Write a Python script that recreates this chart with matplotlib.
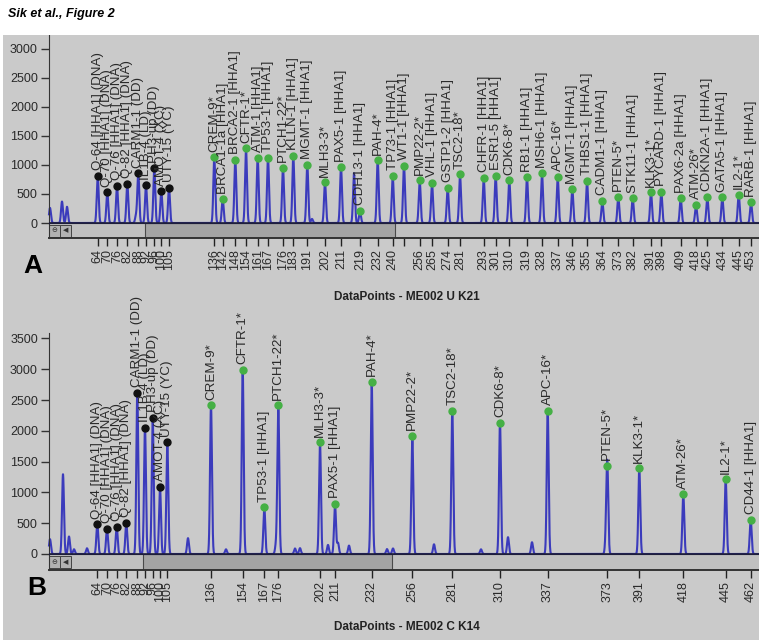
import numpy as np
import matplotlib.pyplot as plt
from matplotlib.patches import Rectangle

plt.rcParams['font.family'] = ['Liberation Sans', 'DejaVu Sans']

# control fragments (same set in both runs)
ctrl_names = ['Q-64 [HHA1] (DNA)', 'Q-70 [HHA1] (DNA)', 'Q-76 [HHA1] (DNA)',
              'Q-82 [HHA1] (DNA)', 'CARM1-1 (DD)', 'IL1B-4 (LD)', 'PH3-up (DD)',
              'AMOT-4 (XC)', 'UTY-15 (YC)']
ctrl_sizes = ['64', '70', '76', '82', '88', '92', '96', '100', '105']

# run A: ME002 U K21
a_ctrl_pos = [977, 1073, 1170, 1273, 1383, 1460, 1543, 1613, 1690]
a_ctrl_h = [810, 530, 640, 680, 860, 650, 940, 550, 610]
a_names = ['CREM-9*', 'BRCA1-1a [HHA1]', 'BRCA2-1 [HHA1]', 'CFTR-1*', 'ATM-1 [HHA1]',
           'TP53-1 [HHA1]', 'PTCH1-22*', 'KLLN-1 [HHA1]', 'MGMT-1 [HHA1]', 'MLH3-3*',
           'PAX5-1 [HHA1]', 'CDH13-1 [HHA1]', 'PAH-4*', 'TP73-1 [HHA1]', 'WT1-1 [HHA1]',
           'PMP22-2*', 'VHL-1 [HHA1]', 'GSTP1-2 [HHA1]', 'TSC2-18*', 'CHFR-1 [HHA1]',
           'ESR1-5 [HHA1]', 'CDK6-8*', 'RB1-1 [HHA1]', 'MSH6-1 [HHA1]', 'APC-16*',
           'MGMT-1 [HHA1]', 'THBS1-1 [HHA1]', 'CADM1-1 [HHA1]', 'PTEN-5*',
           'STK11-1 [HHA1]', 'KLK3-1*', 'PYCARD-1 [HHA1]', 'PAX6-2a [HHA1]', 'ATM-26*',
           'CDKN2A-1 [HHA1]', 'GATA5-1 [HHA1]', 'IL2-1*', 'RARB-1 [HHA1]']
a_sizes = ['136', '142', '148', '154', '161', '167', '176', '183', '191', '202',
           '211', '219', '232', '240', '', '256', '265', '274', '281', '293',
           '301', '310', '319', '328', '337', '346', '355', '364', '373', '382',
           '391', '398', '409', '418', '425', '434', '445', '453']
a_pos = [2143, 2227, 2353, 2460, 2577, 2680, 2830, 2933, 3073, 3250,
         3410, 3600, 3777, 3927, 4040, 4197, 4320, 4477, 4600, 4837,
         4957, 5093, 5270, 5420, 5577, 5723, 5870, 6023, 6183, 6327,
         6510, 6613, 6807, 6960, 7073, 7223, 7387, 7510]
a_h = [1130, 410, 1090, 1290, 1125, 1125, 950, 1155, 1005, 700,
       960, 210, 1085, 815, 990, 735, 690, 605, 840, 780,
       815, 740, 790, 860, 800, 585, 730, 380, 450, 430,
       530, 535, 425, 310, 455, 440, 490, 360]
a_other_pos = [500, 620, 670, 1360, 3120, 3540]
a_other_h = [260, 370, 280, 120, 70, 860]

# run B: ME002 C K14
b_ctrl_pos = [973, 1070, 1167, 1263, 1373, 1450, 1527, 1600, 1673]
b_ctrl_h = [486, 410, 443, 508, 2617, 2049, 2213, 1087, 1814]
b_names = ['CREM-9*', 'CFTR-1*', 'TP53-1 [HHA1]', 'PTCH1-22*', 'MLH3-3*',
           'PAX5-1 [HHA1]', 'PAH-4*', 'PMP22-2*', 'TSC2-18*', 'CDK6-8*', 'APC-16*',
           'PTEN-5*', 'KLK3-1*', 'ATM-26*', 'IL2-1*', 'CD44-1 [HHA1]']
b_sizes = ['136', '154', '167', '176', '202', '211', '232', '256', '281', '310',
           '337', '373', '391', '418', '445', '462']
b_pos = [2110, 2427, 2643, 2783, 3200, 3350, 3717, 4123, 4523, 5000,
         5477, 6073, 6393, 6833, 7257, 7507]
b_h = [2415, 2989, 760, 2415, 1814, 814, 2798, 1923, 2322, 2126,
       2322, 1432, 1393, 967, 1213, 557]
b_other_pos = [500, 630, 690, 740, 870, 1880, 2260, 2760, 2950, 3000, 3280, 3380,
               3490, 3870, 3930, 4340, 4810, 5080, 5320, 6060]
b_other_h = [240, 1295, 284, 77, 93, 257, 76, 147, 90, 95, 148, 180,
             137, 80, 90, 158, 76, 273, 191, 240]

BG = '#cacaca'
BLUE = '#3b3bbc'
GREEN = '#45b045'
TXT = '#2a2a2a'
XMIN, XMAX = 490, 7590
W, H = 759, 640


def trace(x, pos, hts, w=9.5):
    y = np.zeros_like(x)
    for p, h in zip(pos, hts):
        y += h * np.exp(-0.5 * ((x - p) / w) ** 2)
    return y


def panel(main_rect, scroll_rect, ymax, ytop, ctrl_pos, ctrl_h, names, pos, hts,
          sizes, other_pos, other_h, thumb):
    ax = fig.add_axes(main_rect)
    sax = fig.add_axes(scroll_rect, sharex=ax)
    ax.set_facecolor('none')
    ax.set_xlim(XMIN, XMAX)
    ax.set_ylim(0, ymax)
    ax.set_yticks(np.arange(0, ytop + 1, 500))
    ax.tick_params(axis='y', length=6, width=1, color='#333', labelsize=9,
                   labelcolor=TXT, pad=2)
    ax.tick_params(axis='x', bottom=False, labelbottom=False)
    for s in ['top', 'right', 'bottom']:
        ax.spines[s].set_visible(False)
    ax.spines['left'].set_color('#333')

    x = np.arange(XMIN, XMAX + 1, 1.0)
    y = trace(x, list(ctrl_pos) + list(pos) + list(other_pos),
              list(ctrl_h) + list(hts) + list(other_h))
    ax.plot(x, y, color=BLUE, lw=1.5, clip_on=False, zorder=2)
    ax.axhline(0, color='#1e1e3c', lw=1.2, zorder=3)

    ax.plot(ctrl_pos, ctrl_h, 'o', ms=5, color='#111111', zorder=4, clip_on=False)
    ax.plot(pos, hts, 'o', ms=5, color=GREEN, zorder=4, clip_on=False)
    for n, p, h in zip(ctrl_names + names, list(ctrl_pos) + list(pos),
                       list(ctrl_h) + list(hts)):
        ax.annotate(n, (p, h), xytext=(0, 4), textcoords='offset points',
                    rotation=90, ha='center', va='bottom', fontsize=9.6,
                    color=TXT, annotation_clip=False, zorder=5)

    # scrollbar strip with the size ticks underneath
    sax.set_facecolor('#c0c0c0')
    sax.set_ylim(0, 1)
    sax.set_yticks([])
    sax.add_patch(Rectangle((thumb[0], 0), thumb[1] - thumb[0], 1,
                            facecolor='#a4a4a4', edgecolor='#4a4a4a', lw=0.8))
    for x0, sym in [(490, '\u2296'), (600, '\u25c0')]:
        sax.add_patch(Rectangle((x0, 0.1), 110, 0.8, facecolor='#b2b2b2',
                                edgecolor='#444', lw=0.7))
        sax.text(x0 + 55, 0.5, sym, ha='center', va='center', fontsize=5,
                 color='#333', family='DejaVu Sans')
    sax.spines['right'].set_visible(False)
    sax.spines['top'].set_color('#1e1e3c')
    sax.spines['bottom'].set_color('#333')
    sax.spines['bottom'].set_linewidth(1.4)
    sax.spines['left'].set_color('#333')
    sax.set_xticks(list(ctrl_pos) + list(pos))
    sax.set_xticklabels(ctrl_sizes + sizes)
    sax.tick_params(axis='x', length=6, width=1, color='#222', pad=2,
                    labelrotation=90, labelsize=9, labelcolor=TXT)
    return ax, sax


fig = plt.figure(figsize=(W / 100, H / 100), dpi=100, facecolor=BG)

# white header strip and left margin
fig.patches.append(Rectangle((0, 1 - 35 / H), 1, 35 / H, transform=fig.transFigure,
                             facecolor='white', edgecolor='none', zorder=0))
fig.patches.append(Rectangle((0, 0), 3 / W, 1, transform=fig.transFigure,
                             facecolor='white', edgecolor='none', zorder=0))
fig.text(8 / W, 1 - 14 / H, 'Sik et al., Figure 2', fontsize=9, fontweight='bold',
         fontstyle='italic', va='center', ha='left')

panel([49 / W, 1 - 223 / H, 710 / W, 188 / H],
      [49 / W, 1 - 238 / H, 710 / W, 15 / H],
      3241, 3000, a_ctrl_pos, a_ctrl_h, a_names, a_pos, a_h, a_sizes,
      a_other_pos, a_other_h, (1450, 3950))
panel([49 / W, 1 - 554 / H, 710 / W, 221 / H],
      [49 / W, 1 - 570 / H, 710 / W, 16 / H],
      3588, 3500, b_ctrl_pos, b_ctrl_h, b_names, b_pos, b_h, b_sizes,
      b_other_pos, b_other_h, (1430, 3920))

fig.text(33 / W, 1 - 266 / H, 'A', fontsize=19, fontweight='bold', ha='center', va='center')
fig.text(37 / W, 1 - 588 / H, 'B', fontsize=19, fontweight='bold', ha='center', va='center')
fig.text(407 / W, 1 - 297 / H, 'DataPoints - ME002 U K21', fontsize=8.5,
         fontweight='bold', ha='center', va='center', color='#222')
fig.text(407 / W, 1 - 627 / H, 'DataPoints - ME002 C K14', fontsize=8.5,
         fontweight='bold', ha='center', va='center', color='#222')

fig.savefig('out.png', dpi=100, facecolor=BG)
